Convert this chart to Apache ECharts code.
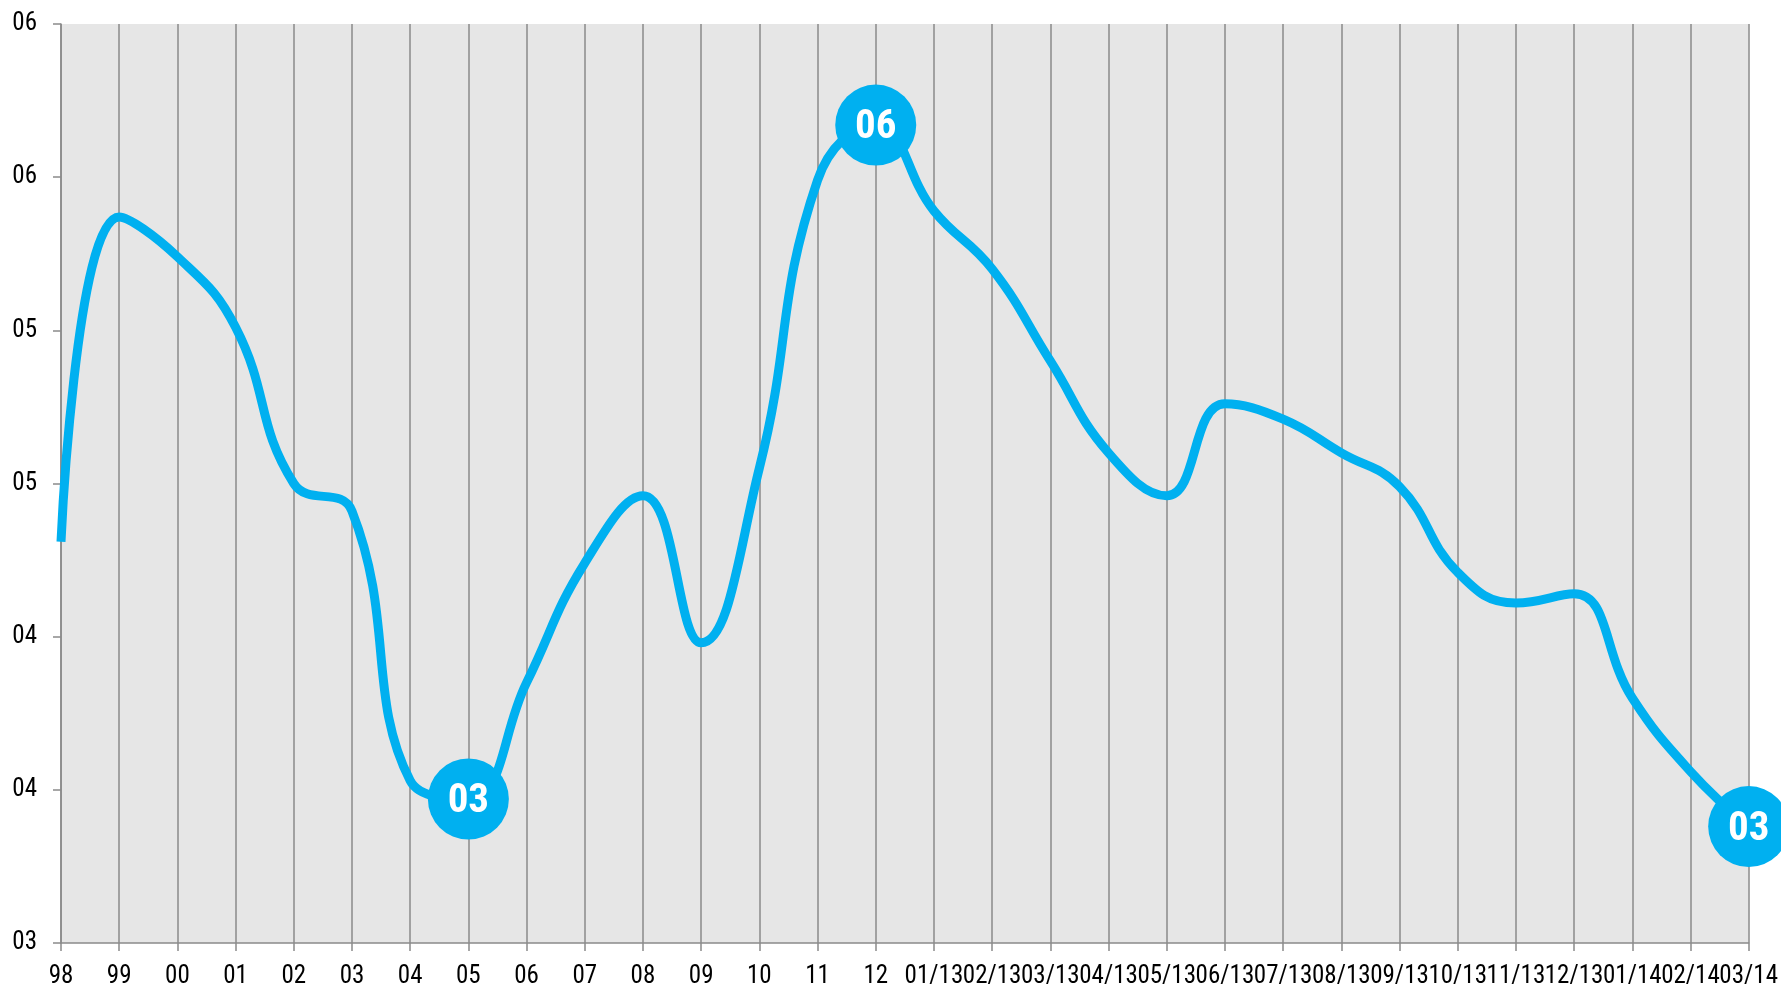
<!DOCTYPE html>
<html>
<head>
<meta charset="utf-8">
<script src="https://cdn.jsdelivr.net/npm/echarts@6/dist/echarts.min.js"></script>
<style>
  html, body { margin: 0; padding: 0; background: #fff; }
  #main { width: 1781px; height: 989px; }
</style>
</head>
<body>
<div id="main"></div>
<script>
// categories along the x axis
var categories = ['98', '99', '00', '01', '02', '03', '04', '05', '06', '07', '08', '09', '10', '11', '12',
  '01/13', '02/13', '03/13', '04/13', '05/13', '06/13', '07/13', '08/13', '09/13', '10/13', '11/13', '12/13',
  '01/14', '02/14', '03/14'];
// values
var values = [4.31, 5.37, 5.24, 5.01, 4.50, 4.41, 3.53, 3.47, 3.85, 4.24, 4.46, 3.98, 4.55, 5.49, 5.67,
  5.39, 5.20, 4.90, 4.60, 4.46, 4.76, 4.71, 4.60, 4.49, 4.21, 4.11, 4.14, 3.80, 3.56, 3.38];
// points that get a round marker with label (min, max, last)
var markedIdx = [7, 14, 29];
// y tick labels, as printed (3 .. 6 step 0.5)
var yTickLabels = ['03', '04', '04', '05', '05', '06', '06'];

var narrow = '"Liberation Sans Narrow", "Arial Narrow", "Roboto Condensed", sans-serif';
var blue = '#00b0f0';
var gray = '#8a8a8a';

var chart = echarts.init(document.getElementById('main'));

var seriesData = values.map(function (v, i) {
  if (markedIdx.indexOf(i) >= 0) {
    return {
      value: v,
      symbol: 'circle',
      symbolSize: 81,
      label: { show: true }
    };
  }
  return { value: v, symbol: 'none' };
});

var option = {
  animation: false,
  grid: {
    left: 61,
    right: 30,
    top: 24,
    bottom: 45,
    show: true,
    backgroundColor: '#e6e6e6',
    borderWidth: 0
  },
  xAxis: {
    type: 'category',
    data: categories,
    boundaryGap: false,
    axisLine: { lineStyle: { color: gray, width: 1.5 } },
    axisTick: { show: true, length: 8, lineStyle: { color: gray, width: 1.5 } },
    axisLabel: {
      interval: 0,
      margin: 21,
      color: '#000',
      fontSize: 25,
      fontFamily: narrow
    },
    splitLine: { show: true, lineStyle: { color: gray, width: 1.5 } }
  },
  yAxis: {
    type: 'value',
    min: 3,
    max: 6,
    interval: 0.5,
    axisLine: { show: true, lineStyle: { color: gray, width: 1.5 } },
    axisTick: { show: true, length: 8, lineStyle: { color: gray, width: 1.5 } },
    axisLabel: {
      margin: 24,
      color: '#000',
      fontSize: 25,
      fontFamily: narrow,
      formatter: function (v) {
        return yTickLabels[Math.round((v - 3) / 0.5)];
      }
    },
    splitLine: { show: false }
  },
  series: [{
    type: 'line',
    data: seriesData,
    smooth: 0.45,
    clip: false,
    showAllSymbol: true,
    lineStyle: { color: blue, width: 9 },
    itemStyle: { color: blue },
    label: {
      show: false,
      position: 'inside',
      offset: [0, 3],
      color: '#fff',
      fontSize: 41,
      fontWeight: 'bold',
      fontFamily: narrow,
      formatter: function (p) {
        var n = Math.round(p.value);
        return (n < 10 ? '0' : '') + n;
      }
    }
  }]
};

chart.setOption(option);
</script>
</body>
</html>
